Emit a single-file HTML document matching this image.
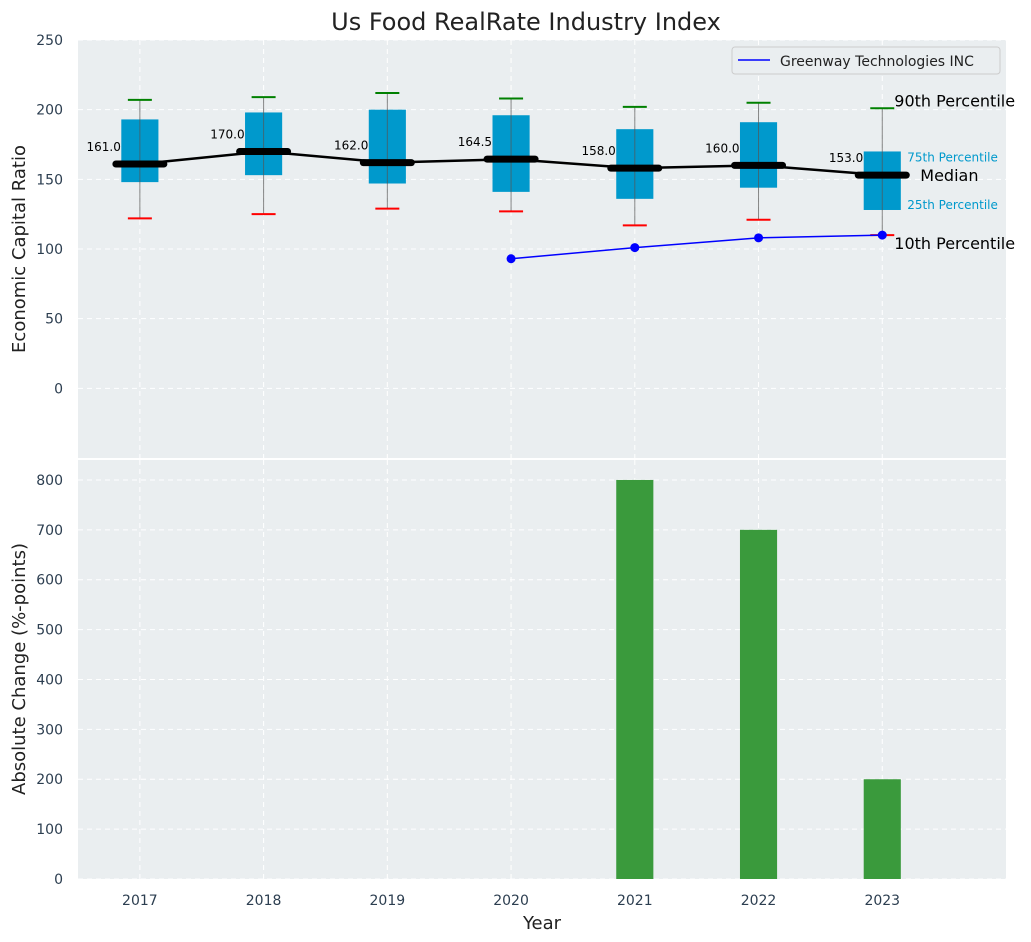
<!DOCTYPE html>
<html><head><meta charset="utf-8"><style>
body{margin:0;background:#fff;}
svg{display:block;font-family:"DejaVu Sans","Liberation Sans",sans-serif;}
</style></head><body>
<svg id="chart" width="1031" height="942" viewBox="0 0 1031 942"></svg>
<script>
const years=[2017,2018,2019,2020,2021,2022,2023];
const p10=[122,125,129,127,117,121,110];
const q1=[148,153,147,141,136,144,128];
const med=[161,170,162,164.5,158,160,153];
const q3=[193,198,200,196,186,191,170];
const p90=[207,209,212,208,202,205,201];
const compYears=[2020,2021,2022,2023];
const compVals=[93,101,108,110];
const chgYears=[2017,2018,2019,2020,2021,2022,2023];
const chgVals=[0,0,0,0,800,700,200];
const topTicks=[0,50,100,150,200,250];
const botTicks=[0,100,200,300,400,500,600,700,800];

const NS="http://www.w3.org/2000/svg";
const svg=document.getElementById('chart');
function el(tag,attrs,parent){const e=document.createElementNS(NS,tag);for(const k in attrs)e.setAttribute(k,attrs[k]);(parent||svg).appendChild(e);return e;}
function txt(s,attrs,parent){const e=el('text',attrs,parent);e.textContent=s;return e;}
const L=78,R=1006,T1=40,B1=458,T2=460,B2=879;
const x=v=>L+(v-2016.5)/(2024-2016.5)*(R-L);
const y1=v=>B1-(v+50)/300*(B1-T1);
const y2=v=>B2-v/840*(B2-T2);
const bw=x(2017.15)-x(2016.85);

let t=txt('Us Food RealRate Industry Index',{x:526,y:30,'font-size':24,'text-anchor':'middle',fill:'#222'});


let p=el('rect',{x:L,y:T1,width:R-L,height:B1-T1,fill:'#eaeef0'});

p=el('rect',{x:L,y:T2,width:R-L,height:B2-T2,fill:'#eaeef0'});


years.forEach(yr=>{
  el('line',{x1:x(yr),x2:x(yr),y1:T1,y2:B1,stroke:'#fff','stroke-dasharray':'5,4','stroke-width':1});
  el('line',{x1:x(yr),x2:x(yr),y1:T2,y2:B2,stroke:'#fff','stroke-dasharray':'5,4','stroke-width':1});
  let tl=txt(yr,{x:x(yr),y:905,'font-size':14,'text-anchor':'middle',fill:'#2c3e50'});
  
});
topTicks.forEach(v=>{
  el('line',{x1:L,x2:R,y1:y1(v),y2:y1(v),stroke:'#fff','stroke-dasharray':'5,4'});
  let tl=txt(v,{x:63,y:y1(v)+5,'font-size':14,'text-anchor':'end',fill:'#2c3e50'});
  
});
botTicks.forEach(v=>{
  el('line',{x1:L,x2:R,y1:y2(v),y2:y2(v),stroke:'#fff','stroke-dasharray':'5,4'});
  let tl=txt(v,{x:63,y:y2(v)+5,'font-size':14,'text-anchor':'end',fill:'#2c3e50'});
  
});

years.forEach((yr,i)=>{
  const cx=x(yr);
  let b=el('rect',{x:cx-bw/2,y:y1(q3[i]),width:bw,height:y1(q1[i])-y1(q3[i]),fill:'#0099cc'});
  
  let w=el('line',{x1:cx,x2:cx,y1:y1(p90[i]),y2:y1(p10[i]),stroke:'#555','stroke-width':1,opacity:0.7});
  
  let c=el('line',{x1:cx-12,x2:cx+12,y1:y1(p90[i]),y2:y1(p90[i]),stroke:'green','stroke-width':2});
  
  c=el('line',{x1:cx-12,x2:cx+12,y1:y1(p10[i]),y2:y1(p10[i]),stroke:'red','stroke-width':2});
  
});
let d=years.map((yr,i)=>(i?'L':'M')+x(yr)+','+y1(med[i])).join(' ');
let ml=el('path',{d:d,stroke:'#000','stroke-width':2.5,fill:'none'});

years.forEach((yr,i)=>{
  const cx=x(yr);
  let m=el('line',{x1:cx-24,x2:cx+24,y1:y1(med[i]),y2:y1(med[i]),stroke:'#000','stroke-width':7,'stroke-linecap':'round'});
  
  let lb=txt(med[i].toFixed(1),{x:cx-19,y:y1(med[i])-13,'font-size':12,'text-anchor':'end',fill:'#000'});
  
});
d=compYears.map((yr,i)=>(i?'L':'M')+x(yr)+','+y1(compVals[i])).join(' ');
let cl=el('path',{d:d,stroke:'blue','stroke-width':1.5,fill:'none'});

compYears.forEach((yr,i)=>{
  let pt=el('circle',{cx:x(yr),cy:y1(compVals[i]),r:4.5,fill:'blue'});
  
});
const lx=x(2023);
[['90th Percentile',lx+12,y1(p90[6])-2,16,'#000'],['75th Percentile',lx+25,y1(q3[6])+10,12,'#0099cc'],
 ['Median',lx+38,y1(med[6])+6,16,'#000'],['25th Percentile',lx+25,y1(q1[6])-1,12,'#0099cc'],
 ['10th Percentile',lx+12,y1(p10[6])+14,16,'#000']].forEach(a=>{
  let e=txt(a[0],{x:a[1],y:a[2],'font-size':a[3],fill:a[4]});
  
});
let lg=el('g',{});

el('rect',{x:732,y:47,width:268,height:27,rx:3,fill:'#eaeef0',stroke:'#ccc'},lg);
el('line',{x1:738,x2:770,y1:60,y2:60,stroke:'blue','stroke-width':1.5},lg);
txt('Greenway Technologies INC',{x:780,y:66,'font-size':14,fill:'#222'},lg);

chgYears.forEach((yr,i)=>{
  if(chgVals[i]<=0)return;
  let b=el('rect',{x:x(yr)-bw/2,y:y2(chgVals[i]),width:bw,height:y2(0)-y2(chgVals[i]),fill:'#3a9a3c'});
  
});

t=txt('Economic Capital Ratio',{x:0,y:0,'font-size':18,'text-anchor':'middle',fill:'#222',transform:'translate(25,249) rotate(-90)'});

t=txt('Absolute Change (%-points)',{x:0,y:0,'font-size':18,'text-anchor':'middle',fill:'#222',transform:'translate(25,669) rotate(-90)'});

t=txt('Year',{x:542,y:929,'font-size':18,'text-anchor':'middle',fill:'#222'});

</script>
</body></html>
